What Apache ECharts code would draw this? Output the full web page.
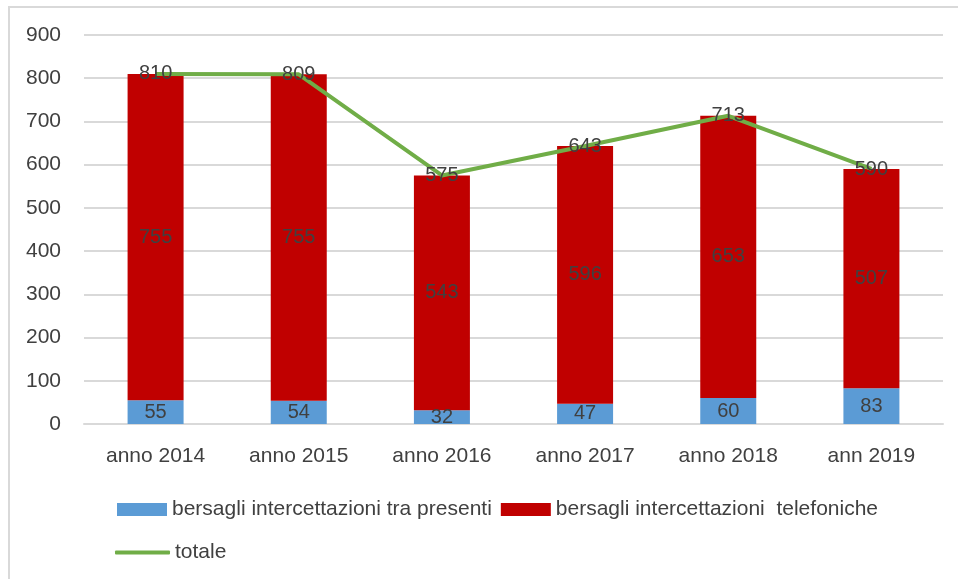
<!DOCTYPE html>
<html>
<head>
<meta charset="utf-8">
<script src="https://cdn.jsdelivr.net/npm/echarts@6/dist/echarts.min.js"></script>
<style>
  html, body { margin: 0; padding: 0; background: #fff; }
  #main { width: 958px; height: 579px; }
</style>
</head>
<body>
<div id="main"></div>
<script>
// dati
var anni = ["anno 2014", "anno 2015", "anno 2016", "anno 2017", "anno 2018", "ann 2019"];
var traPresenti = [55, 54, 32, 47, 60, 83];
var telefoniche = [755, 755, 543, 596, 653, 507];
var totale = [810, 809, 575, 643, 713, 590];

var nomePresenti = "bersagli intercettazioni tra presenti";
var nomeTelefoniche = "bersagli intercettazioni  telefoniche";
var nomeTotale = "totale";

var font = "'Liberation Sans', Arial, sans-serif";

var myChart = echarts.init(document.getElementById('main'));

function etichetta() {
    return {
        show: true,
        position: 'inside',
        color: '#404040',
        fontSize: 20,
        fontFamily: font,
        textBorderWidth: 0
    };
}

var option = {
    animation: false,
    textStyle: { fontFamily: font },
    // cornice sinistra e superiore
    graphic: [{
        type: 'polyline',
        shape: { points: [[9, 579], [9, 7], [958, 7]] },
        style: { stroke: '#d9d9d9', lineWidth: 2, fill: null },
        silent: true
    }],
    grid: { left: 84, right: 15, top: 35, bottom: 155 },
    legend: [{
        data: [nomePresenti, nomeTelefoniche],
        left: 112,
        top: 494,
        itemWidth: 50,
        itemHeight: 13,
        itemGap: 9,
        icon: 'rect',
        textStyle: { color: '#404040', fontSize: 21, fontFamily: font }
    }, {
        data: [{ name: nomeTotale, icon: 'roundRect' }],
        left: 110,
        top: 537,
        itemWidth: 55,
        itemHeight: 4,
        textStyle: { color: '#404040', fontSize: 21, fontFamily: font }
    }],
    xAxis: {
        type: 'category',
        data: anni,
        axisLine: { lineStyle: { color: '#d9d9d9', width: 2 } },
        axisTick: { show: false },
        axisLabel: { color: '#404040', fontSize: 21, margin: 22, fontFamily: font }
    },
    yAxis: {
        type: 'value',
        min: 0,
        max: 900,
        interval: 100,
        axisLine: { show: false },
        axisTick: { show: false },
        axisLabel: { color: '#404040', fontSize: 21, margin: 23, fontFamily: font },
        splitLine: { lineStyle: { color: '#d9d9d9', width: 2 } }
    },
    series: [{
        name: nomePresenti,
        type: 'bar',
        stack: 'tot',
        barWidth: 56,
        data: traPresenti,
        itemStyle: { color: '#5b9bd5' },
        label: etichetta()
    }, {
        name: nomeTelefoniche,
        type: 'bar',
        stack: 'tot',
        barWidth: 56,
        data: telefoniche,
        itemStyle: { color: '#c00000' },
        label: etichetta()
    }, {
        name: nomeTotale,
        type: 'line',
        data: totale,
        symbol: 'circle',
        symbolSize: 1,
        showSymbol: true,
        z: 3,
        lineStyle: { color: '#70ad47', width: 4 },
        itemStyle: { color: '#70ad47' },
        label: etichetta()
    }]
};

myChart.setOption(option);
</script>
</body>
</html>
